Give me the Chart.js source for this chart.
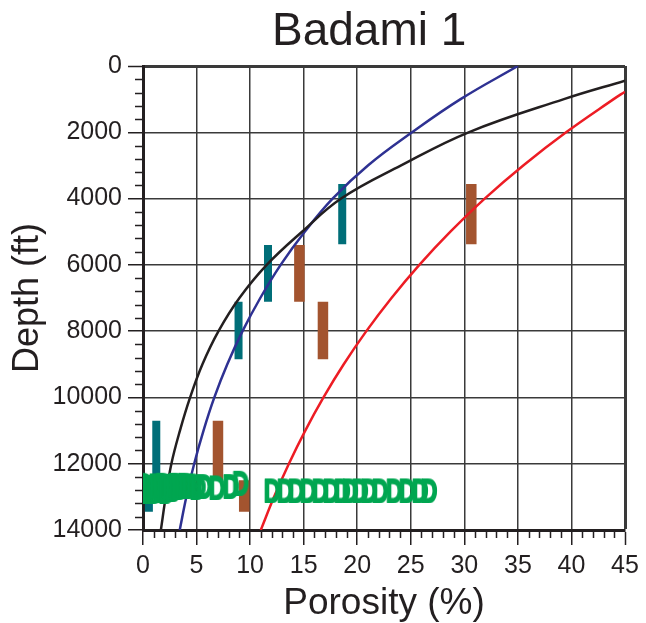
<!DOCTYPE html>
<html>
<head>
<meta charset="utf-8">
<script src="https://cdn.jsdelivr.net/npm/chart.js@4.4.0/dist/chart.umd.min.js"></script>
<style>
  html, body { margin: 0; padding: 0; background: #fff; }
  #wrap { position: relative; width: 646px; height: 623px; }
  #chart { position: absolute; left: 0; top: 0; }
  #title {
    position: absolute; left: 272px; top: 6px; margin: 0;
    font: 46px/46px "Liberation Sans", Arial, sans-serif;
    color: #231f20; white-space: nowrap;
  }
</style>
</head>
<body>
<div id="wrap">
  <canvas id="chart" width="646" height="623"></canvas>
  <div id="title">Badami 1</div>
</div>
<script>
// Porosity-depth trend curves (porosity in %, depth in ft)
const blueDepth = [0, 1000, 2000, 3000, 4000, 5000, 6000, 7000, 8000, 9000, 10000, 11000, 12000, 13000, 14000];
const bluePoro  = [35.0, 29.65, 25.12, 21.0, 17.7, 15.1, 12.85, 10.95, 9.29, 7.87, 6.66, 5.65, 4.78, 4.05, 3.43];

const blackDepth = [443, 1000, 2000, 3000, 4000, 5000, 6000, 7000, 8000, 9000, 10000, 11000, 12000, 13000, 14000];
const blackPoro  = [45.0, 39.3, 30.4, 24.1, 18.5, 14.85, 11.55, 9.0, 7.05, 5.55, 4.4, 3.45, 2.65, 2.12, 1.67];

const redDepth = [775, 1000, 2000, 3000, 4000, 5000, 6000, 7000, 8000, 9000, 10000, 11000, 12000, 13000, 14000];
const redPoro  = [45.0, 43.94, 39.5, 35.5, 31.9, 28.7, 25.8, 23.2, 20.85, 18.74, 16.85, 15.15, 13.62, 12.24, 11.0];

// Depth intervals with average porosity
const tealPoro   = [18.6, 11.67, 8.92, 1.24, 0.55];
const tealTop    = [3560, 5400, 7110, 10700, 12500];
const tealBottom = [5380, 7110, 8850, 12500, 13450];

const brownPoro   = [30.65, 14.6, 16.8, 7.0, 9.45];
const brownTop    = [3560, 5400, 7110, 10700, 12500];
const brownBottom = [5380, 7110, 8850, 12500, 13450];

// Core plug measurements ("D" symbols)
const plugPoro  = [0.1, 0.4, 0.7, 1.0, 1.3, 1.6, 1.9, 2.2, 2.5, 2.8, 3.1, 3.4, 3.7, 4.0, 4.3, 4.7, 5.1, 5.7, 6.9, 8.2, 9.1,
                   12.04, 13.26, 14.29, 15.41, 16.53, 17.55, 18.58, 19.33, 20.26, 21.1, 22.12, 23.44, 24.65, 25.86, 26.7];
const plugDepth = [12620, 12800, 12680, 12820, 12640, 12780, 12620, 12800, 12650, 12760, 12620, 12700, 12640, 12620, 12660, 12640, 12680, 12660, 12700, 12660, 12560,
                   12790, 12790, 12790, 12790, 12790, 12790, 12790, 12790, 12790, 12790, 12790, 12790, 12790, 12790, 12790];

// Axis ranges and ticks
const xMin = 0, xMax = 45, xStep = 5, xMinor = 1;
const yMin = 0, yMax = 14000, yStep = 2000, yMinor = 400;

const ink = '#231f20';
const gridColor = '#3a3a3a';
const plugColor = '#00a651';
const fontFamily = '"Liberation Sans", Arial, sans-serif';

function toPoints(xs, ys) {
    return xs.map((v, i) => ({ x: v, y: ys[i] }));
}

// Glyph used as point symbol: a bold, narrowed letter
function makeGlyph(ch, color) {
    const c = document.createElement('canvas');
    c.width = 18;
    c.height = 27;
    const g = c.getContext('2d');
    g.fillStyle = color;
    g.strokeStyle = color;
    g.lineWidth = 1.8;
    g.lineJoin = 'round';
    g.font = 'bold 34px ' + fontFamily;
    g.textAlign = 'center';
    g.textBaseline = 'alphabetic';
    g.translate(9, 0);
    g.scale(0.68, 1);
    g.fillText(ch, 0, 25.5);
    g.strokeText(ch, 0, 25.5);
    return c;
}

function curve(xs, ys, color) {
    return {
        type: 'scatter',
        data: toPoints(xs, ys),
        showLine: true,
        borderColor: color,
        borderWidth: 2.5,
        pointRadius: 0,
        tension: 0.4
    };
}

function intervals(poro, top, bottom, color, width) {
    return poro.map((p, i) => ({
        type: 'scatter',
        data: [{ x: p, y: top[i] }, { x: p, y: bottom[i] }],
        showLine: true,
        borderColor: color,
        borderWidth: width,
        borderCapStyle: 'butt',
        pointRadius: 0
    }));
}

// Small ticks between the labelled ones
const minorTicks = {
    id: 'minorTicks',
    afterDraw(chart) {
        const { ctx, scales: { x, y } } = chart;
        ctx.save();
        ctx.strokeStyle = ink;
        ctx.lineWidth = 1.5;
        ctx.beginPath();
        for (let v = xMin; v <= xMax; v += xMinor) {
            if (v % xStep === 0) continue;
            const px = Math.round(x.getPixelForValue(v)) + 0.5;
            ctx.moveTo(px, y.bottom);
            ctx.lineTo(px, y.bottom + 8);
        }
        for (let v = yMin; v <= yMax; v += yMinor) {
            if (v % yStep === 0) continue;
            const py = Math.round(y.getPixelForValue(v)) + 0.5;
            ctx.moveTo(x.left - 8, py);
            ctx.lineTo(x.left, py);
        }
        ctx.stroke();
        ctx.restore();
    }
};

const plugGlyph = makeGlyph('D', plugColor);

const datasets = [
    {
        type: 'scatter',
        data: toPoints(plugPoro, plugDepth),
        pointStyle: plugGlyph,
        pointRadius: 8,
        showLine: false
    },
    curve(blackPoro, blackDepth, ink),
    curve(bluePoro, blueDepth, '#2e3192'),
    curve(redPoro, redDepth, '#ed1c24'),
    ...intervals(tealPoro, tealTop, tealBottom, '#006e78', 8),
    ...intervals(brownPoro, brownTop, brownBottom, '#a3542f', 10.5)
];

new Chart(document.getElementById('chart'), {
    type: 'scatter',
    data: { datasets },
    plugins: [minorTicks],
    options: {
        responsive: false,
        animation: false,
        devicePixelRatio: 1,
        layout: { padding: { left: 0, right: 21, top: 66, bottom: 0 } },
        plugins: {
            legend: { display: false },
            tooltip: { enabled: false }
        },
        scales: {
            x: {
                type: 'linear',
                position: 'bottom',
                min: xMin,
                max: xMax,
                ticks: {
                    stepSize: xStep,
                    color: ink,
                    padding: 6,
                    font: { family: fontFamily, size: 25 },
                    callback: v => String(v)
                },
                grid: {
                    color: gridColor,
                    lineWidth: c => (c.tick && c.tick.value === xMax) ? 3 : 1.5,
                    tickLength: 15,
                    tickWidth: 1.5,
                    tickColor: ink
                },
                border: { color: ink, width: 3 },
                title: {
                    display: true,
                    text: 'Porosity (%)',
                    color: ink,
                    font: { family: fontFamily, size: 37, lineHeight: 1 },
                    padding: { top: 0, bottom: 1 }
                },
                afterFit: s => { s.height = 93; }
            },
            y: {
                type: 'linear',
                reverse: true,
                min: yMin,
                max: yMax,
                ticks: {
                    stepSize: yStep,
                    color: ink,
                    padding: 6,
                    font: { family: fontFamily, size: 25 },
                    callback: v => String(v)
                },
                grid: {
                    color: gridColor,
                    lineWidth: c => (c.tick && c.tick.value === yMin) ? 3 : 1.5,
                    tickLength: 15,
                    tickWidth: 1.5,
                    tickColor: ink
                },
                border: { color: ink, width: 3 },
                title: {
                    display: true,
                    text: 'Depth (ft)',
                    color: ink,
                    font: { family: fontFamily, size: 36, lineHeight: 1 },
                    padding: { top: 10, bottom: 0 }
                },
                afterFit: s => { s.width = 143; }
            }
        }
    }
});
</script>
</body>
</html>
